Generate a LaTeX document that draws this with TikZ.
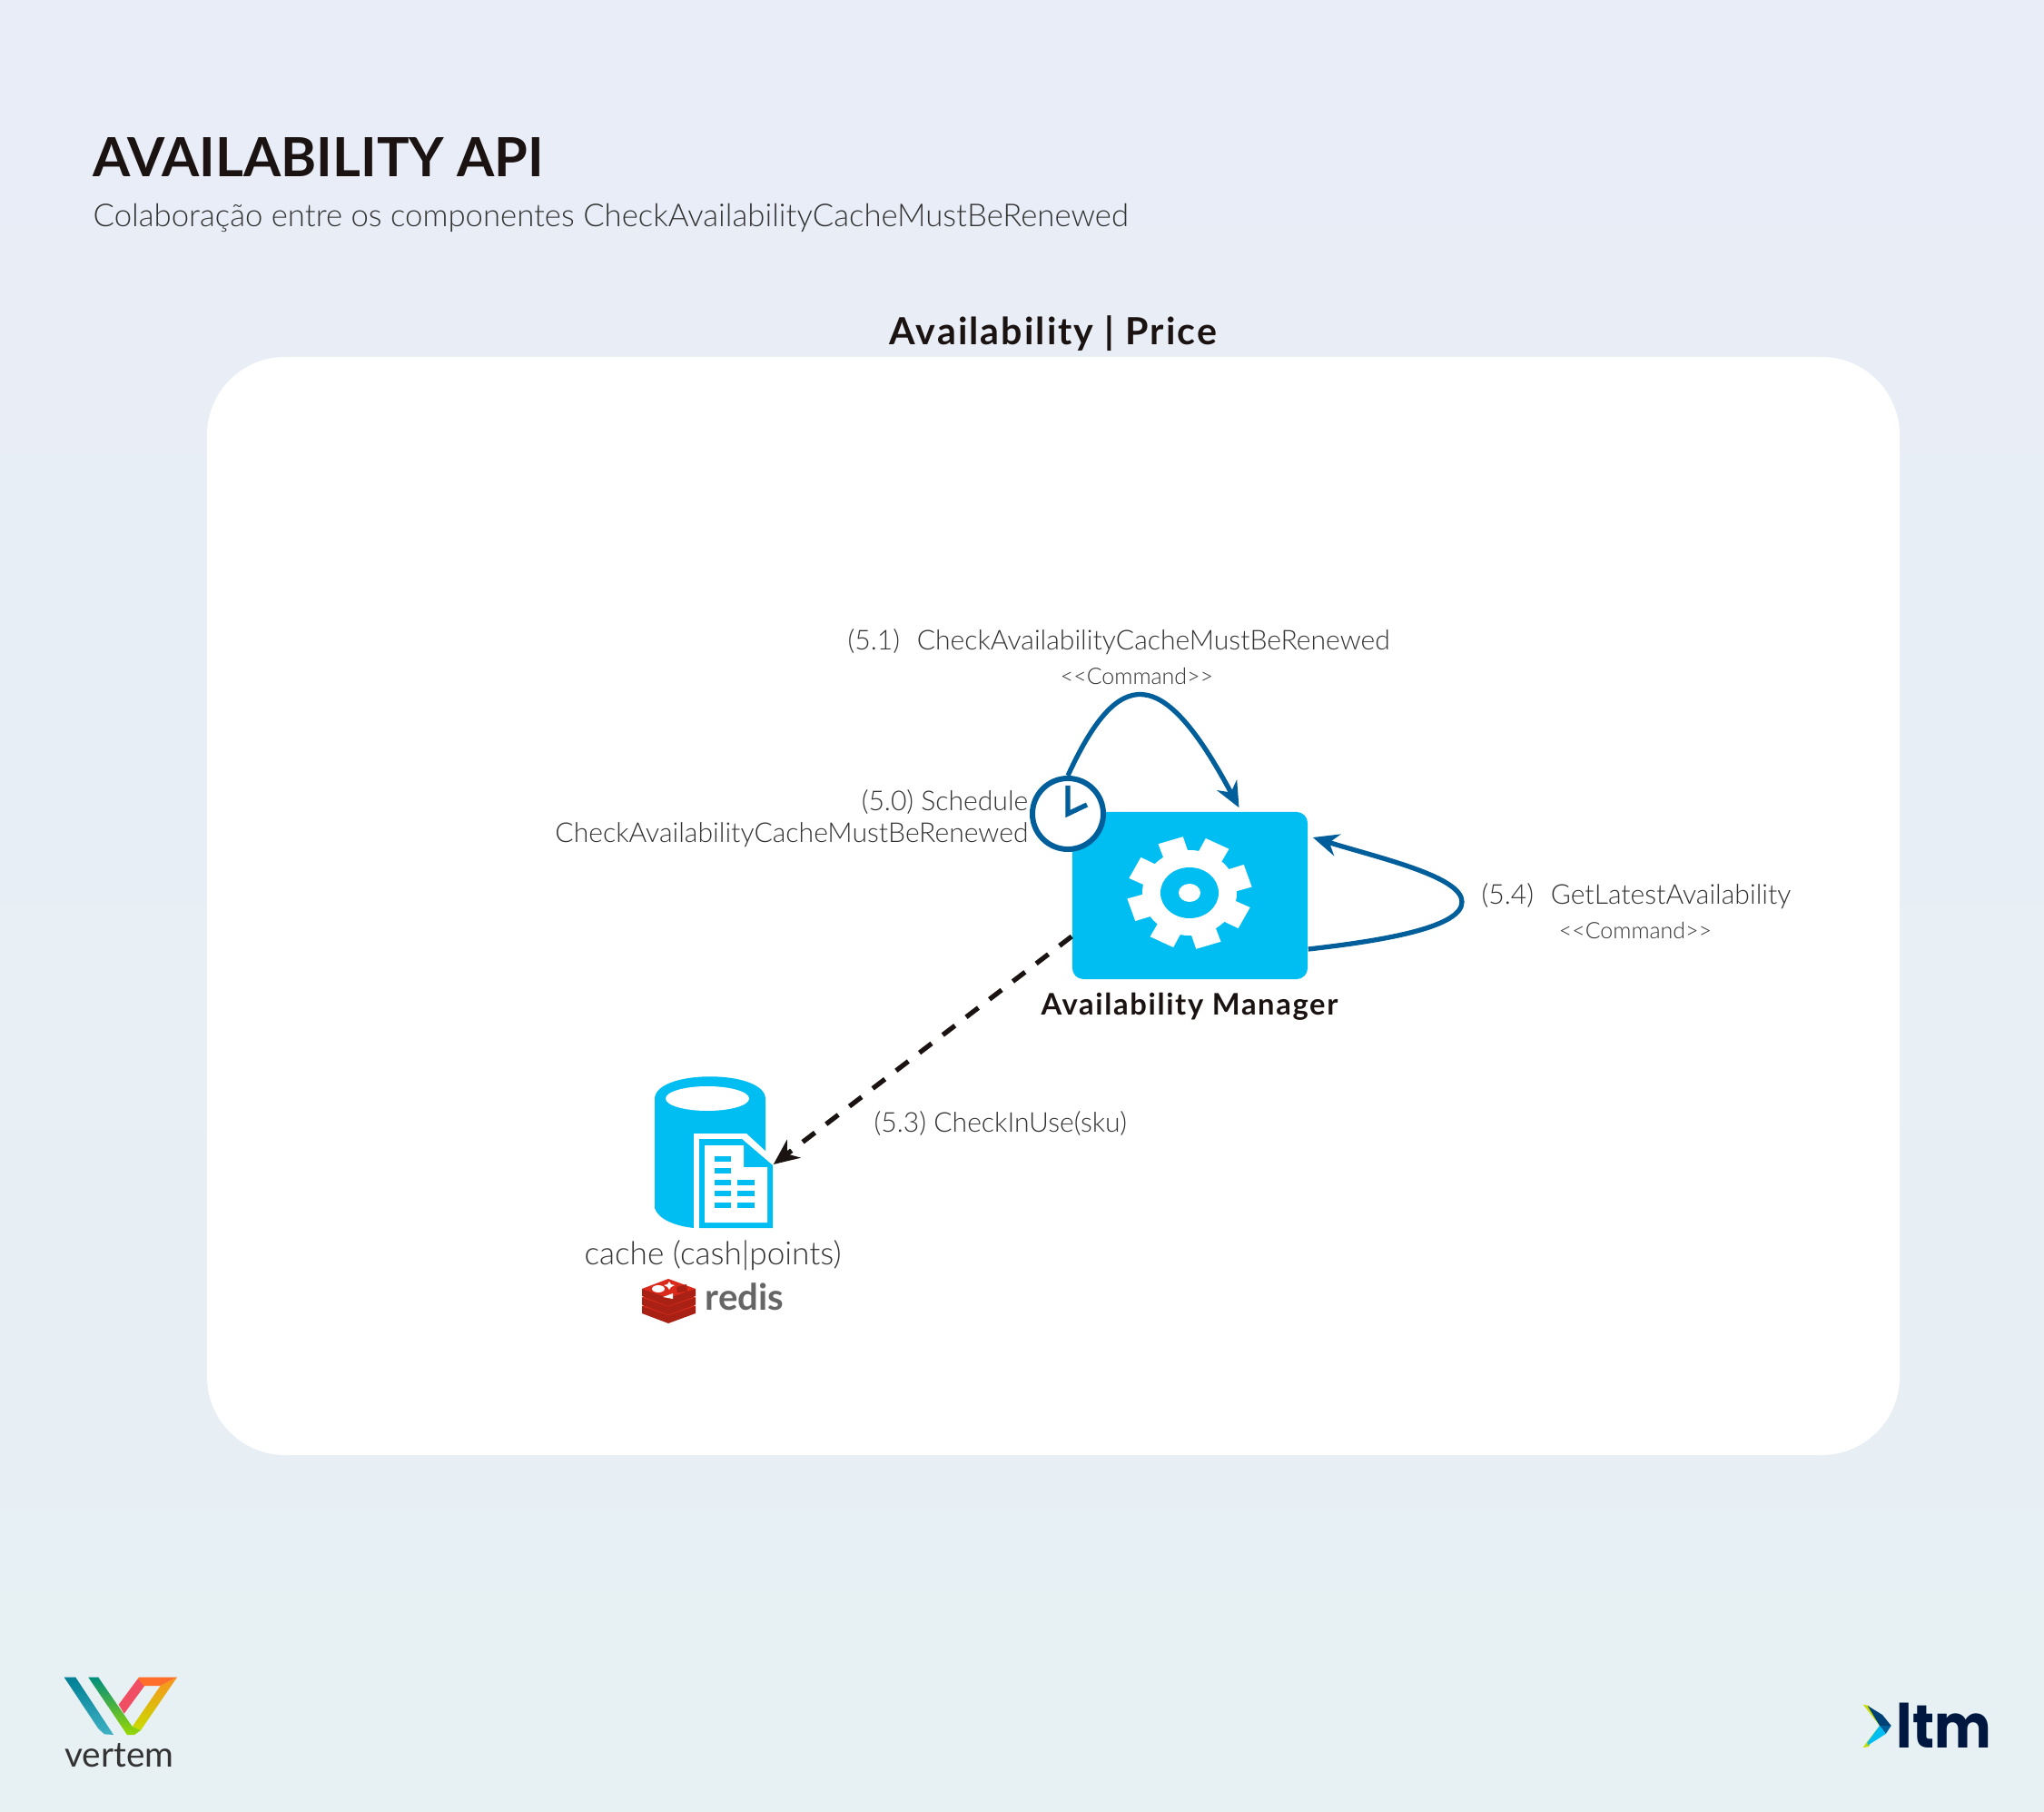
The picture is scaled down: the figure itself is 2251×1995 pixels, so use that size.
\documentclass[tikz,border=0pt]{standalone}
\usepackage{fontspec}
\usepackage{graphicx}
\setmainfont{Lato}
\newfontfamily\lightfont{Lato Light}
\newfontfamily\headfont[LetterSpace=5]{Lato}
\newfontfamily\logofont{Poppins}
\usetikzlibrary{positioning, calc, arrows.meta, shapes.geometric}
\definecolor{Ink}{HTML}{1A1311}
\definecolor{Soft}{HTML}{333333}
\definecolor{Sky}{HTML}{00BEF2}
\definecolor{Deep}{HTML}{005E9A}
\definecolor{BgTop}{HTML}{E9EDF7}
\definecolor{BgBottom}{HTML}{E7F0F3}
\definecolor{RedisTop}{HTML}{D92A1C}
\definecolor{RedisSide}{HTML}{A92014}
\definecolor{Navy}{HTML}{00173F}
\definecolor{BandTop}{HTML}{007F95}
\definecolor{BandEnd}{HTML}{3FB1C4}
\definecolor{ArmTop}{HTML}{008E7E}
\definecolor{ArmEnd}{HTML}{98D800}
\definecolor{Rose}{HTML}{EF4E63}
\definecolor{Flame}{HTML}{FF6E2A}
\definecolor{Amber}{HTML}{F9931E}
\definecolor{Lime}{HTML}{C8DC00}
\tikzset{
    titletext/.style={inner sep=0pt, anchor=base west, text=Ink, font=\bfseries\fontsize{16.9}{20}\selectfont},
    headtext/.style={inner sep=0pt, anchor=base, text=Ink, font=\headfont\bfseries\fontsize{11.7}{14}\selectfont},
    lighttext/.style={inner sep=0pt, text=Soft, font=\lightfont\fontsize{9.87}{12}\selectfont},
    labeltext/.style={inner sep=0pt, text=Soft, font=\lightfont\fontsize{8.56}{10.2}\selectfont},
    smalltext/.style={inner sep=0pt, anchor=base, text=Soft, font=\lightfont\fontsize{7.1}{9}\selectfont},
    managerbox/.style={rectangle, rounded corners=3.5pt, fill=Sky, minimum width=2.59cm, minimum height=1.84cm},
    clocknode/.style={circle, draw=Deep, fill=white, line width=1.7pt, minimum size=0.78cm, inner sep=0pt},
    iconbox/.style={rectangle, minimum width=1.30cm, minimum height=1.66cm, inner sep=0pt},
    arrow/.style={-{Stealth[length=8pt, width=7pt]}, line width=1.5pt, color=Deep},
    dasharrow/.style={-{Stealth[length=8pt, width=7pt]}, line width=1.5pt, color=Ink, dash pattern=on 4.8pt off 4.4pt},
}
\begin{document}
\begin{tikzpicture}[x=0.01cm, y=-0.01cm]
    \useasboundingbox (0,0) rectangle (2251,1995);
    \shade[top color=BgTop, bottom color=BgBottom] (0,0) rectangle (2251,1995);
    \fill[white, rounded corners=0.86cm] (228,393) rectangle (2092,1602);

    \node[titletext] (title) at (102,195) {AVAILABILITY API};
    \node[lighttext, anchor=base west] (subtitle) at (102,250) {Colaboração entre os componentes CheckAvailabilityCacheMustBeRenewed};
    \node[headtext] (panel) at (1160,380) {Availability | Price};

    % manager
    \node[managerbox] (manager) at (1310.5,986) {};
    \coordinate (gear) at (1310,983);
    \foreach \a in {-18,27,72,117,162,207,252,297} {
        \fill[white, shift={(gear)}, yscale=0.9] (\a-17:48) -- (\a-12:69) -- (\a+12:69) -- (\a+17:48) -- cycle;
    }
    \fill[white] (gear) ellipse [x radius=52, y radius=47];
    \fill[Sky] (gear) ellipse [x radius=32, y radius=28];
    \fill[white] (gear) ellipse [x radius=12, y radius=10];
    \node[headtext, font=\headfont\bfseries\fontsize{9.3}{12}\selectfont] (managerlabel) at (1310,1117) {Availability Manager};

    % clock
    \node[clocknode] (clock) at (1176,896) {};
    \draw[Deep, line width=1.5pt] (1176,865) -- (clock.center) -- (1197,886);

    % cache
    \node[iconbox] (cache) at (786,1269) {};
    \fill[Sky] (721,1210) .. controls (721,1177) and (843,1177) .. (843,1210) -- (843,1330) -- (764,1352) .. controls (745,1350) and (725,1343) .. (721,1330) -- cycle;
    \fill[white] (779,1209.5) ellipse [x radius=46, y radius=13.5];
    \fill[white] (764,1248) -- (822,1248) -- (860,1283) -- (860,1360) -- (764,1360) -- cycle;
    \fill[Sky] (770,1254) -- (817,1254) -- (851,1283) -- (851,1352) -- (770,1352) -- cycle;
    \fill[white] (776,1261) -- (819,1261) -- (819,1285) -- (845,1285) -- (845,1346) -- (776,1346) -- cycle;
    \foreach \y in {1276,1289,1301.5,1314,1327} {
        \fill[Sky] (787,\y-3) rectangle (805,\y+3);
    }
    \foreach \y in {1301.5,1314,1327} {
        \fill[Sky] (812,\y-3) rectangle (831,\y+3);
    }
    \node[lighttext, anchor=base, font=\lightfont\fontsize{10}{12}\selectfont] (cachelabel) at (785,1392) {cache (cash|points)};

    % redis
    \foreach \d in {19,9.5,0} {
        \fill[RedisSide] (707,1419+\d) -- (707,1427+\d) -- (736,1438+\d) -- (766,1427+\d) -- (766,1419+\d) -- cycle;
        \fill[RedisTop] (736,1408+\d) -- (766,1419+\d) -- (736,1429+\d) -- (707,1419+\d) -- cycle;
    }
    \fill[white] (725,1419) ellipse [x radius=7, y radius=4];
    \fill[white] (737,1411) -- (739,1414) -- (743,1415) -- (739,1417) -- (737,1420) -- (735,1417) -- (731,1415) -- (735,1414) -- cycle;
    \fill[white] (730,1428) -- (741,1424) -- (741,1430) -- cycle;
    \fill[RedisSide] (745,1417) -- (756,1414) -- (757,1422) -- (746,1423) -- cycle;
    \node[inner sep=0pt, anchor=base, text=black!60, font=\bfseries\fontsize{11.4}{13}\selectfont] (redis) at (820,1442) {redis};

    % connectors
    \draw[arrow] (clock.north) .. controls (1232,732) and (1280,731) .. ([shift={(54,-4)}]manager.north);
    \draw[arrow] ([shift={(0,59)}]manager.east) .. controls (1530,1035) and (1610,1020) .. (1610,993) .. controls (1610,965) and (1520,945) .. ([shift={(5,-64)}]manager.east);
    \draw[dasharrow] ([shift={(0,45)}]manager.west) -- ([shift={(0,13)}]cache.east);

    % labels
    \node[labeltext, anchor=base west] (label51) at (933,716) {(5.1)\hspace{5.3pt}CheckAvailabilityCacheMustBeRenewed};
    \node[smalltext] (cmd51) at (1252,754) {<{}<Command>{}>};
    \node[labeltext, anchor=base east, align=right] (label50) at (1133,928) {(5.0) Schedule\\CheckAvailabilityCacheMustBeRenewed};
    \node[labeltext, anchor=base west] (label54) at (1631,996) {(5.4)\hspace{5.3pt}GetLatestAvailability};
    \node[smalltext] (cmd54) at (1801,1034) {<{}<Command>{}>};
    \node[labeltext, anchor=base west] (label53) at (962,1246) {(5.3) CheckInUse(sku)};

    % vertem
    \shade[top color=BandTop, bottom color=BandEnd] (70.7,1846.7) -- (83.3,1846.7) -- (125,1910) -- (115,1909.3) -- (108.3,1903.3) -- cycle;
    \fill[Rose] (130.7,1876.7) -- (152,1848) -- (160,1855) -- (136.7,1886.7) -- cycle;
    \fill[Flame] (152,1848) -- (153,1846.7) -- (195,1846.7) -- (176.7,1856) -- (158.3,1856) -- cycle;
    \shade[top color=Amber, bottom color=Lime] (195,1846.7) -- (155,1905) -- (145.7,1901) -- (176.7,1856) -- cycle;
    \shade[top color=ArmTop, bottom color=ArmEnd] (97.3,1846.7) -- (108.3,1846.7) -- (145.7,1901) -- (155,1905) -- (148,1910) -- (140,1910) -- cycle;
    \node[inner sep=0pt, anchor=base, text=Soft, font=\fontsize{11}{13}\selectfont] (vertem) at (131.5,1945) {vertem};

    % ltm
    \fill[Lime] (2051.7,1876.7) -- (2058,1878) -- (2070,1900) -- (2058,1923) -- (2051.7,1924) -- (2056,1918) -- (2070,1900) -- (2056,1882) -- cycle;
    \fill[Deep!60!Navy] (2056.7,1878) -- (2073,1888) -- (2082.7,1900) -- (2070,1900) -- cycle;
    \fill[Deep] (2070,1900) -- (2082.7,1900) -- (2076.7,1909) -- cycle;
    \fill[Sky] (2070,1900) -- (2076.7,1909) -- (2056.7,1921.7) -- (2056.7,1918) -- cycle;
    \node[inner sep=0pt, anchor=base west, text=Navy, font=\logofont\bfseries\fontsize{19}{22}\selectfont] (ltm) at (2088,1924) {\scalebox{0.885}[1]{ltm}};
\end{tikzpicture}
\end{document}
